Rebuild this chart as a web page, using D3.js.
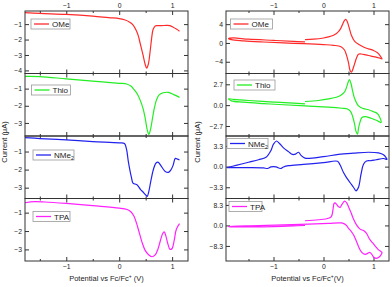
<!DOCTYPE html>
<html lang="en">
<head>
<meta charset="utf-8">
<title>CV / LSV panels</title>
<script src="https://cdn.jsdelivr.net/npm/d3@7"></script>
<style>
  body { margin: 0; background: #fff; }
  text { font-family: "Liberation Sans", Arial, sans-serif; fill: #222; }
</style>
</head>
<body>
<div id="chart"></div>
<script>
// ---- data ----
var names = ["OMe", "Thio", "NMe2", "TPA"]
var colors = ["#ff2a2a", "#22ee22", "#2222ee", "#ff22ff"]
var xTicks = [-1, 0, 1]
var xMinor = [-1.5, -0.5, 0.5]

// left column: single sweeps
var omeV = [-1.78, -1.5, -1.0, -0.5, -0.2, 0.0, 0.1, 0.2, 0.26, 0.32, 0.36, 0.40, 0.45, 0.49, 0.52, 0.55, 0.58, 0.61, 0.64, 0.68, 0.72, 0.8, 0.9, 0.96, 1.02, 1.08, 1.14]
var omeI = [-0.26, -0.31, -0.37, -0.48, -0.58, -0.64, -0.72, -0.88, -1.05, -1.4, -1.75, -2.3, -3.0, -3.6, -3.85, -3.6, -2.9, -2.0, -1.35, -1.12, -1.1, -1.1, -1.08, -1.1, -1.2, -1.32, -1.46]
var thioV = [-1.78, -1.5, -1.0, -0.5, 0.0, 0.14, 0.22, 0.28, 0.34, 0.40, 0.45, 0.49, 0.53, 0.56, 0.59, 0.62, 0.66, 0.70, 0.75, 0.83, 0.93, 1.03, 1.14]
var thioI = [-0.29, -0.3, -0.43, -0.56, -0.69, -0.73, -0.85, -1.05, -1.3, -1.7, -2.15, -2.7, -3.4, -3.67, -3.4, -2.9, -2.2, -1.7, -1.38, -1.24, -1.22, -1.35, -1.51]
var nme2V = [-1.78, -1.5, -1.0, -0.5, 0.0, 0.1, 0.14, 0.17, 0.2, 0.23, 0.26, 0.30, 0.34, 0.40, 0.45, 0.50, 0.53, 0.56, 0.60, 0.65, 0.70, 0.74, 0.80, 0.87, 0.93, 0.98, 1.02, 1.06, 1.10, 1.14]
var nme2I = [-0.23, -0.28, -0.36, -0.45, -0.52, -0.56, -0.9, -1.5, -2.0, -2.42, -2.75, -2.8, -2.85, -3.09, -3.24, -3.4, -3.48, -3.2, -2.6, -1.95, -1.62, -1.6, -1.84, -2.1, -2.15, -2.0, -1.75, -1.38, -1.42, -1.47]
var tpaV = [-1.78, -1.6, -1.4, -1.0, -0.5, 0.0, 0.15, 0.22, 0.28, 0.33, 0.38, 0.43, 0.49, 0.56, 0.62, 0.68, 0.73, 0.78, 0.82, 0.85, 0.88, 0.92, 0.96, 1.00, 1.04, 1.08, 1.14]
var tpaI = [-0.46, -0.40, -0.42, -0.5, -0.62, -0.75, -0.83, -0.95, -1.2, -1.6, -2.1, -2.6, -3.05, -3.3, -3.4, -3.3, -3.0, -2.5, -2.15, -2.05, -2.25, -2.7, -3.0, -2.95, -2.5, -1.9, -1.6]

// right column: cyclic voltammograms
var omeCvV = [-0.37, -0.2, 0.0, 0.1, 0.2, 0.28, 0.34, 0.38, 0.42, 0.45, 0.48, 0.52, 0.56, 0.62, 0.7, 0.8, 0.9, 1.0, 1.08, 1.13, 1.17, 1.12, 1.05, 0.95, 0.85, 0.75, 0.70, 0.66, 0.62, 0.58, 0.56, 0.53, 0.5, 0.46, 0.42, 0.35, 0.2, 0.0, -0.4, -0.8, -1.2, -1.6, -1.84, -1.9, -1.8, -1.5, -1.0, -0.6, -0.37]
var omeCvI = [0.72, 0.8, 1.05, 1.28, 1.65, 2.2, 3.0, 3.9, 4.8, 5.0, 4.4, 3.0, 1.6, 0.4, -0.3, -0.86, -1.25, -1.6, -2.1, -2.7, -3.4, -3.2, -3.0, -2.8, -2.55, -2.35, -2.4, -3.2, -4.5, -5.8, -6.2, -5.8, -4.2, -2.6, -1.5, -0.8, -0.5, -0.35, -0.15, 0.0, 0.2, 0.45, 0.7, 0.95, 1.07, 0.8, 0.55, 0.35, 0.21]
var thioCvV = [-0.37, -0.1, 0.1, 0.3, 0.38, 0.43, 0.47, 0.5, 0.52, 0.55, 0.58, 0.62, 0.7, 0.8, 0.9, 1.0, 1.07, 1.12, 1.15, 1.1, 1.03, 0.93, 0.83, 0.77, 0.73, 0.70, 0.68, 0.65, 0.62, 0.58, 0.54, 0.48, 0.37, 0.1, -0.37, -0.8, -1.2, -1.6, -1.84, -1.9, -1.8, -1.5, -1.0, -0.6, -0.37]
var thioCvI = [0.47, 0.6, 0.8, 1.12, 1.45, 1.8, 2.5, 3.1, 3.3, 2.8, 1.9, 0.9, -0.1, -0.45, -0.6, -0.85, -1.05, -1.5, -2.27, -2.1, -1.9, -1.65, -1.5, -1.6, -2.2, -3.0, -3.75, -3.4, -2.4, -1.4, -0.8, -0.5, -0.4, -0.25, -0.1, 0.05, 0.2, 0.38, 0.56, 0.82, 0.75, 0.6, 0.4, 0.25, 0.17]
var nme2CvV = [-1.93, -1.75, -1.5, -1.3, -1.15, -1.05, -1.0, -0.94, -0.88, -0.8, -0.7, -0.62, -0.56, -0.5, -0.45, -0.37, 0.0, 0.3, 0.6, 0.9, 1.1, 1.2, 1.27,
               1.2, 1.05, 0.95, 0.86, 0.80, 0.75, 0.70, 0.65, 0.60, 0.53, 0.46, 0.40, 0.33, 0.28, 0.0, -0.4, -0.7, -0.8, -0.86, -0.95, -1.05, -1.12, -1.2, -1.5, -1.93]
var nme2CvI = [-0.16, 0.2, 0.7, 1.1, 1.5, 2.6, 3.6, 4.1, 3.7, 3.0, 2.4, 1.95, 2.0, 2.3, 1.8, 1.35, 1.6, 1.95, 2.15, 2.3, 2.2, 1.9, 1.16,
               1.3, 1.1, 0.95, 0.9, 0.37, -1.22, -3.3, -3.87, -3.3, -2.54, -1.75, -0.95, 0.3, 0.85, 0.63, 0.35, 0.15, -0.05, -0.3, -0.05, -0.05, -0.3, -0.2, -0.15, -0.16]
var tpaCvV = [-0.37, -0.1, 0.1, 0.16, 0.19, 0.21, 0.23, 0.26, 0.3, 0.33, 0.37, 0.42, 0.46, 0.5, 0.55, 0.6, 0.66, 0.73, 0.8, 0.86, 0.92, 0.98, 1.04, 1.1, 1.15, 1.17, 1.14, 1.1, 1.05, 1.0, 0.96, 0.92, 0.88, 0.84, 0.8, 0.75, 0.7, 0.65, 0.6, 0.55, 0.5, 0.45, 0.36, 0.1, -0.3, -0.8, -1.3, -1.9, -1.85, -1.5, -1.0, -0.6, -0.37]
var tpaCvI = [1.9, 2.3, 2.9, 3.7, 6.5, 8.8, 9.1, 8.6, 7.6, 7.3, 8.5, 9.8, 9.2, 7.6, 5.2, 2.6, 0.2, -1.5, -2.1, -3.2, -5.5, -7.0, -8.5, -9.9, -10.6, -10.9, -12.2, -13.0, -13.3, -12.8, -11.5, -10.9, -11.3, -11.7, -11.5, -10.5, -8.5, -6.0, -3.8, -2.3, -1.2, 0.2, 1.0, 0.8, 0.5, 0.2, -0.1, -0.4, -0.55, -0.55, -0.45, -0.2, 0.0]

// y ranges and ticks per sub-panel
var leftDomains = [[-4.2, -0.15], [-3.76, -0.12], [-3.6, -0.14], [-3.63, -0.23]]
var leftTicks = [[-1, -2, -3, -4], [-1, -2, -3], [-1, -2, -3], [-1, -2, -3]]
var rightDomains = [[-6.5, 6.8], [-4.0, 4.1], [-5.1, 4.9], [-14.4, 10.9]]
var rightTicks = [[-4, 0, 4], [-2.7, 0, 2.7], [-3.3, 0, 3.3], [-8.3, 0, 8.3]]

var leftSeries = [[omeV, omeI], [thioV, thioI], [nme2V, nme2I], [tpaV, tpaI]]
var rightSeries = [[omeCvV, omeCvI], [thioCvV, thioCvI], [nme2CvV, nme2CvI], [tpaCvV, tpaCvI]]

// ---- layout ----
var w = 392, h = 287
var rows = [11, 73.5, 136, 198.5, 261]
var columns = [
  {x0: 25, x1: 188, dom: [-1.78, 1.3], yDom: leftDomains, yTicks: leftTicks, fmt: d3.format("d"), series: leftSeries,
   titleX: 7, legend: [[31, 19, 39], [31.5, 85, 39], [33, 150, 41], [33, 211.5, 37]]},
  {x0: 226, x1: 389, dom: [-1.95, 1.31], yDom: rightDomains, yTicks: rightTicks, fmt: null, series: rightSeries,
   titleX: 200, legend: [[230.5, 19, 42], [234, 80, 41], [227, 138.5, 41], [229, 201.5, 33]]}
]

var svg = d3.select("#chart").append("svg")
  .attr("width", w).attr("height", h)

columns.forEach(function(col, ci) {
  var x = d3.scaleLinear().domain(col.dom).range([col.x0, col.x1])

  for (var r = 0; r < 4; r++) {
    var top = rows[r], bot = rows[r + 1]
    var y = d3.scaleLinear().domain(col.yDom[r]).range([bot, top])
    var g = svg.append("g")

    // x ticks (inward) on top and bottom of every sub-panel
    var isTop = r == 0, isBot = r == 3
    var xt = d3.axisTop(x).tickValues(xTicks).tickSizeInner(-4).tickSizeOuter(0)
      .tickFormat(isTop ? d3.format("d") : "")
    var xb = d3.axisBottom(x).tickValues(xTicks).tickSizeInner(-4).tickSizeOuter(0)
      .tickFormat(isBot ? d3.format("d") : "")
    var xtm = d3.axisTop(x).tickValues(xMinor).tickSizeInner(-2).tickSizeOuter(0).tickFormat("")
    var xbm = d3.axisBottom(x).tickValues(xMinor).tickSizeInner(-2).tickSizeOuter(0).tickFormat("")
    g.append("g").attr("class", "ax").attr("transform", "translate(0," + top + ")").call(xt)
    g.append("g").attr("class", "ax").attr("transform", "translate(0," + top + ")").call(xtm)
    g.append("g").attr("class", "ax").attr("transform", "translate(0," + bot + ")").call(xb)
    g.append("g").attr("class", "ax").attr("transform", "translate(0," + bot + ")").call(xbm)

    var fmt = col.fmt
    if (!fmt) fmt = (ci == 1 && r == 0) ? d3.format("d") : d3.format(".1f")
    var yl = d3.axisLeft(y).tickValues(col.yTicks[r]).tickSizeInner(-4).tickSizeOuter(0).tickFormat(fmt)
    var yr = d3.axisRight(y).tickValues(col.yTicks[r]).tickSizeInner(-4).tickSizeOuter(0).tickFormat("")
    g.append("g").attr("class", "ax").attr("transform", "translate(" + col.x0 + ",0)").call(yl)
    g.append("g").attr("class", "ax").attr("transform", "translate(" + col.x1 + ",0)").call(yr)

    // curve
    var vs = col.series[r][0], is = col.series[r][1]
    var pts = vs.map(function(v, i) { return [v, is[i]] })
    var line = d3.line()
      .x(function(d) { return x(d[0]) })
      .y(function(d) { return y(d[1]) })
      .curve(d3.curveCatmullRom.alpha(0.5))
    g.append("path").datum(pts)
      .attr("d", line)
      .attr("fill", "none")
      .attr("stroke", colors[r])
      .attr("stroke-width", 1.2)

    // frame
    g.append("rect")
      .attr("x", col.x0).attr("y", top)
      .attr("width", col.x1 - col.x0).attr("height", bot - top)
      .attr("fill", "none").attr("stroke", "#333").attr("stroke-width", 1)

    // legend
    var lg = col.legend[r]
    var leg = svg.append("g").attr("transform", "translate(" + lg[0] + "," + lg[1] + ")")
    leg.append("rect").attr("width", lg[2]).attr("height", 10)
      .attr("fill", "#fff").attr("stroke", "#999").attr("stroke-width", 0.8)
    leg.append("line").attr("x1", 3).attr("x2", 18).attr("y1", 5).attr("y2", 5)
      .attr("stroke", colors[r]).attr("stroke-width", 1.3)
    var t = leg.append("text").attr("x", 21).attr("y", 8.2).attr("font-size", 8)
    if (names[r] == "NMe2") {
      t.text("NMe")
      t.append("tspan").attr("font-size", 5).attr("dy", 2).text("2")
    } else {
      t.text(names[r])
    }
  }

  // x title
  var title = svg.append("text")
    .attr("x", (col.x0 + col.x1) / 2).attr("y", 281)
    .attr("text-anchor", "middle").attr("font-size", 7.5)
    .text("Potential vs Fc/Fc")
  title.append("tspan").attr("font-size", 5).attr("dy", -3).text("+")
  title.append("tspan").attr("dy", 3).text(ci == 0 ? " (V)" : "(V)")

  // y title
  var yt = svg.append("text")
    .attr("transform", "translate(" + col.titleX + ",142) rotate(-90)")
    .attr("text-anchor", "middle").attr("font-size", 7.5)
  yt.text("Current (")
  yt.append("tspan").text("\u03bcA)")
})

svg.selectAll(".ax path").remove()
svg.selectAll(".ax line").attr("stroke", "#333")
svg.selectAll(".ax text").attr("font-size", 6.8).style("fill", "#222")
svg.selectAll(".ax text").attr("font-family", "Liberation Sans, Arial, sans-serif")
</script>
</body>
</html>
